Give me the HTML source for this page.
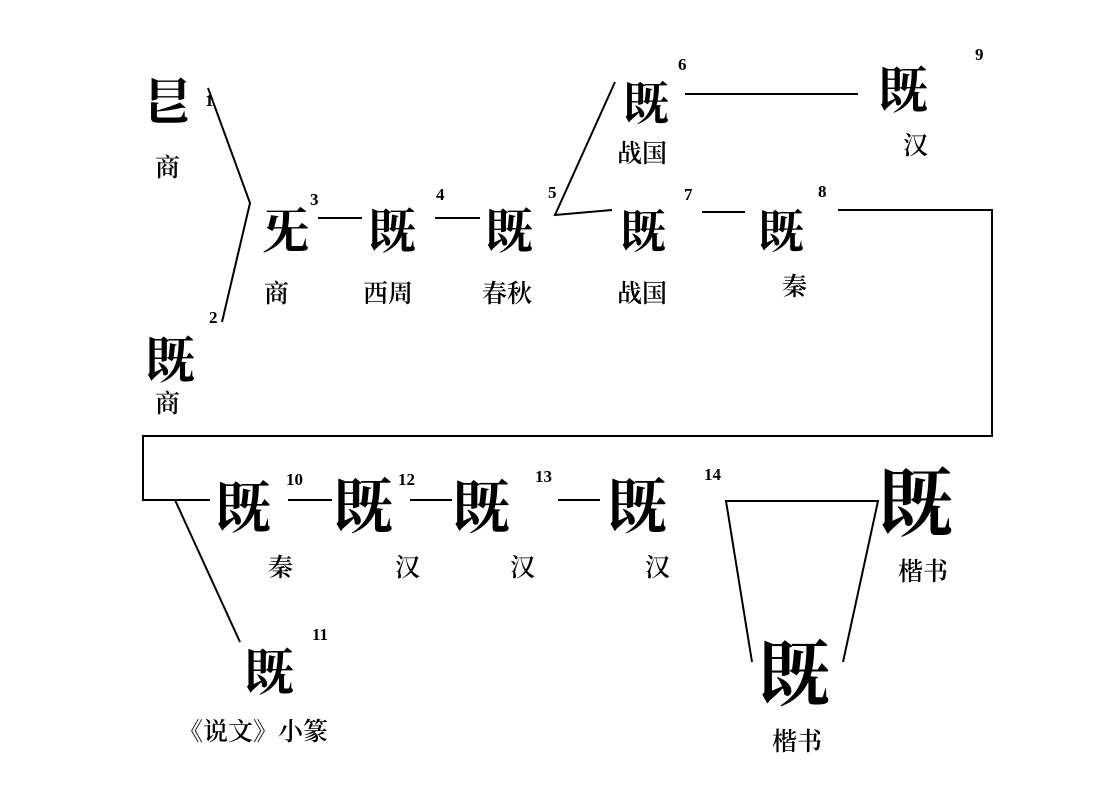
<!DOCTYPE html><html><head><meta charset="utf-8"><style>
body{margin:0;background:#fff}
svg{display:block}
.g{font-family:"Noto Serif CJK SC","WenQuanYi Zen Hei",serif;font-weight:700;fill:#000}
.l{font-family:"Noto Serif CJK SC","Liberation Serif",serif;font-size:25px;font-weight:600;fill:#000}
.n{font-family:"Liberation Serif",serif;font-size:17px;font-weight:700;fill:#000}
</style></head><body>
<svg width="1113" height="791" viewBox="0 0 1113 791" xmlns="http://www.w3.org/2000/svg">
<g stroke="#000" stroke-width="2" fill="none">
<polyline points="208,88 250,203 222,322"/>
<line x1="318" y1="218" x2="362" y2="218"/>
<line x1="435" y1="218" x2="480" y2="218"/>
<polyline points="615,82 555,215 612,210"/>
<line x1="685" y1="94" x2="858" y2="94"/>
<line x1="702" y1="212" x2="745" y2="212"/>
<polyline points="838,210 992,210 992,436 143,436 143,500 210,500"/>
<line x1="288" y1="500" x2="332" y2="500"/>
<line x1="410" y1="500" x2="452" y2="500"/>
<line x1="558" y1="500" x2="600" y2="500"/>
<polyline points="175,500 240,642"/>
<polyline points="752,662 726,501 878,501 843,662"/>
</g>
<g class="g">
<text x="143" y="120" font-size="50">㫐</text>
<text x="145" y="378" font-size="50">既</text>
<text x="262" y="248" font-size="48">旡</text>
<text x="368" y="248" font-size="48">既</text>
<text x="485" y="248" font-size="48">既</text>
<text x="623" y="120" font-size="46">既</text>
<text x="878" y="108" font-size="50">既</text>
<text x="620" y="248" font-size="46">既</text>
<text x="758" y="248" font-size="46">既</text>
<text x="215" y="528" font-size="56">既</text>
<text x="333" y="528" font-size="60">既</text>
<text x="452" y="528" font-size="58">既</text>
<text x="607" y="528" font-size="60">既</text>
<text x="878" y="530" font-size="75">既</text>
<text x="758" y="700" font-size="72">既</text>
<text x="244" y="690" font-size="50">既</text>
</g>
<g class="l">
<text x="155" y="176">商</text>
<text x="264" y="302">商</text>
<text x="363" y="302">西周</text>
<text x="482" y="302">春秋</text>
<text x="617" y="162">战国</text>
<text x="617" y="302">战国</text>
<text x="782" y="295">秦</text>
<text x="903" y="154">汉</text>
<text x="155" y="412">商</text>
<text x="268" y="576">秦</text>
<text x="395" y="576">汉</text>
<text x="510" y="576">汉</text>
<text x="645" y="576">汉</text>
<text x="898" y="580">楷书</text>
<text x="772" y="750">楷书</text>
<text x="178" y="740">《说文》小篆</text>
</g>
<g class="n">
<text x="205" y="106">1</text><text x="209" y="323">2</text>
<text x="310" y="205">3</text><text x="436" y="200">4</text>
<text x="548" y="198">5</text><text x="678" y="70">6</text>
<text x="684" y="200">7</text><text x="818" y="197">8</text>
<text x="975" y="60">9</text><text x="286" y="485">10</text>
<text x="398" y="485">12</text><text x="535" y="482">13</text>
<text x="704" y="480">14</text><text x="312" y="640">11</text>
</g>
</svg></body></html>
